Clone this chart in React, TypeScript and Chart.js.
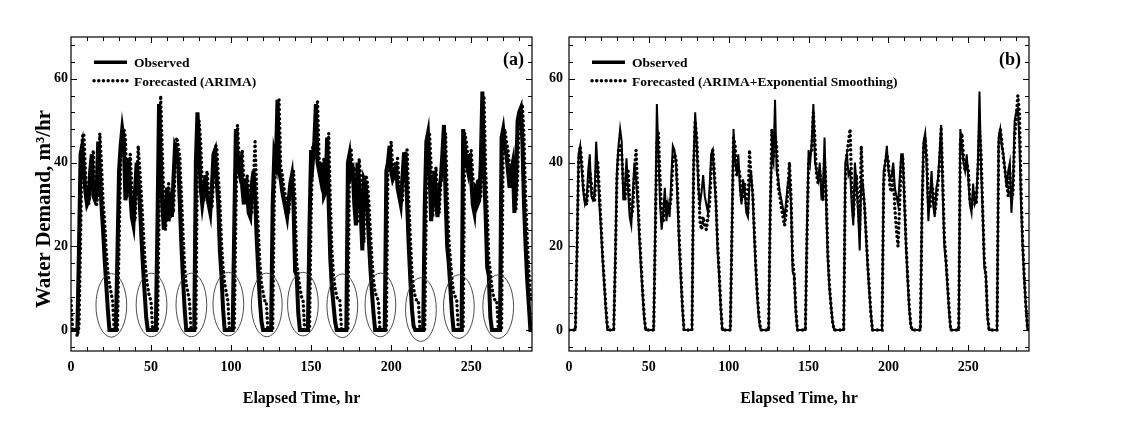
import React, { useEffect, useRef } from 'react';
import { Chart, registerables } from 'chart.js';

Chart.register(...registerables);

// ---------- data (hourly, 0..288 hr) ----------
const OBSERVED = [
  0, 0, 0, 0, 0, 20, 42, 44, 38, 33, 30, 31,
  38, 42, 32, 31, 32, 45, 38, 30, 24, 17, 11, 5,
  0, 0, 0, 0, 0, 18, 38, 44, 48, 45, 31, 34,
  41, 33, 27, 25, 33, 40, 36, 30, 22, 15, 9, 3,
  0, 0, 0, 0, 0, 0, 25, 54, 42, 30, 24, 28,
  34, 26, 30, 27, 36, 44, 43, 40, 30, 20, 12, 5,
  0, 0, 0, 0, 0, 0, 40, 52, 44, 34, 30, 33,
  37, 32, 30, 28, 34, 42, 43, 36, 30, 19, 13, 5,
  0, 0, 0, 0, 0, 0, 25, 48, 40, 38, 42, 34,
  30, 36, 33, 28, 27, 35, 38, 32, 22, 14, 7, 2,
  0, 0, 0, 0, 0, 0, 30, 42, 40, 55, 38, 36,
  33, 31, 29, 27, 31, 35, 37, 30, 14, 13, 4, 0,
  0, 0, 0, 0, 0, 25, 43, 40, 45, 54, 40, 38,
  36, 40, 32, 33, 46, 30, 17, 10, 6, 2, 0, 0,
  0, 0, 0, 0, 0, 40, 42, 37, 38, 30, 25, 40,
  35, 28, 19, 36, 35, 30, 22, 15, 9, 4, 0, 0,
  0, 0, 0, 0, 0, 38, 40, 44, 38, 36, 37, 40,
  34, 32, 30, 36, 42, 42, 30, 20, 12, 5, 1, 0,
  0, 0, 0, 0, 0, 30, 45, 47, 38, 26, 32, 38,
  30, 27, 34, 36, 42, 49, 32, 20, 16, 10, 4, 0,
  0, 0, 0, 0, 0, 48, 44, 40, 38, 42, 36, 30,
  28, 35, 30, 31, 40, 57, 38, 28, 15, 13, 3, 0,
  0, 0, 0, 0, 0, 46, 48, 44, 42, 38, 34, 38,
  40, 28, 35, 50, 52, 53, 45, 30, 20, 12, 6, 0,
  0,
];

const FORECAST_ARIMA = [
  7, 0, 0, 0, -1.5, 1, 22, 46, 47, 38, 33, 30,
  33, 40, 43, 32, 30, 33, 47, 40, 31, 26, 19, 14,
  11, 9, 7, 0, 0, 0, 20, 40, 46, 48, 46, 32,
  35, 42, 34, 27, 26, 34, 44, 38, 32, 25, 18, 13,
  10, 8, 7, 0, 0, 0, 0, 27, 56, 43, 31, 24,
  29, 35, 27, 31, 28, 38, 46, 44, 41, 32, 23, 15,
  11, 9, 7, 0, 0, 0, 0, 42, 50, 45, 35, 31,
  34, 38, 33, 31, 29, 35, 44, 44, 37, 31, 21, 15,
  11, 9, 7, 0, 0, 0, 0, 27, 49, 41, 39, 43,
  35, 31, 37, 34, 29, 28, 36, 45, 33, 24, 16, 11,
  9, 7, 7, 0, 0, 0, 0, 32, 44, 41, 55, 39,
  37, 34, 32, 30, 28, 32, 36, 38, 31, 16, 13, 10,
  8, 7, 0, 0, 0, 0, 27, 44, 41, 46, 55, 41,
  39, 37, 41, 33, 34, 47, 31, 19, 13, 10, 8, 7,
  7, 0, 0, 0, 0, 0, 41, 43, 38, 39, 31, 26,
  41, 36, 29, 21, 37, 36, 31, 24, 17, 12, 9, 8,
  7, 0, 0, 0, 0, 0, 39, 41, 45, 39, 37, 38,
  41, 35, 33, 31, 37, 43, 43, 31, 22, 14, 10, 8,
  7, 7, 0, 0, 0, 0, 31, 46, 47, 39, 27, 33,
  39, 31, 28, 35, 37, 43, 47, 33, 22, 17, 12, 9,
  8, 7, 0, 0, 0, 0, 47, 45, 41, 39, 43, 37,
  31, 29, 36, 31, 32, 41, 56, 39, 29, 17, 14, 10,
  8, 7, 7, 0, 0, 0, 45, 48, 45, 43, 39, 35,
  39, 41, 29, 36, 51, 53, 54, 46, 32, 22, 14, 8,
  7,
];

const FORECAST_ARIMA_ES = [
  0, 0, 0, 0, 0, 18, 40, 44, 40, 34, 31, 30,
  34, 38, 35, 31, 31, 38, 40, 33, 26, 18, 12, 6,
  1, 0, 0, 0, 0, 16, 36, 43, 44, 42, 35, 31,
  36, 38, 31, 27, 29, 38, 43, 33, 24, 17, 10, 4,
  0, 0, 0, 0, 0, 0, 22, 45, 47, 36, 28, 26,
  30, 31, 28, 29, 32, 40, 42, 41, 33, 22, 14, 6,
  0, 0, 0, 0, 0, 0, 38, 50, 46, 36, 26, 24,
  27, 25, 24, 27, 30, 38, 43, 38, 31, 21, 14, 6,
  0, 0, 0, 0, 0, 0, 22, 46, 44, 37, 39, 37,
  31, 32, 35, 30, 28, 43, 36, 33, 24, 15, 8, 3,
  0, 0, 0, 0, 0, 0, 28, 48, 41, 46, 44, 34,
  32, 29, 27, 25, 28, 33, 40, 32, 17, 13, 5, 0,
  0, 0, 0, 0, 0, 22, 40, 42, 43, 52, 45, 37,
  35, 38, 35, 31, 41, 33, 19, 11, 6, 2, 0, 0,
  0, 0, 0, 0, 0, 36, 42, 45, 48, 34, 27, 34,
  37, 30, 24, 44, 33, 30, 23, 16, 10, 4, 0, 0,
  0, 0, 0, 0, 0, 35, 40, 42, 40, 34, 33, 38,
  29, 24, 20, 30, 40, 41, 32, 21, 13, 6, 1, 0,
  0, 0, 0, 0, 0, 28, 44, 46, 41, 30, 29, 35,
  33, 28, 31, 35, 40, 48, 36, 22, 17, 11, 5, 0,
  0, 0, 0, 0, 0, 45, 47, 41, 38, 40, 38, 31,
  29, 32, 33, 30, 38, 48, 42, 29, 17, 13, 4, 0,
  0, 0, 0, 0, 0, 44, 48, 45, 41, 38, 35, 32,
  38, 31, 33, 46, 51, 56, 52, 34, 21, 13, 6, 1,
  0,
];

// hourly time stamps
const HOURS = OBSERVED.map((_, i) => i);

// axes
const X_MIN = 0;
const X_MAX = 288;
const Y_MIN = -5;
const Y_MAX = 70;
const X_MAJOR_TICKS = [0, 50, 100, 150, 200, 250];
const Y_MAJOR_TICKS = [0, 20, 40, 60];
const X_MINOR_STEP = 10;
const Y_MINOR_STEP = 4;

// ellipse annotations around the night-time troughs in panel (a)
const ELLIPSE_HOURS = [25.2, 50.3, 75.2, 98.3, 122.3, 144.9, 169.5, 193.3, 218.6, 242.3, 266.9];
const ELLIPSE_LEVELS = [5.9, 6, 6, 6.2, 6, 6.2, 5.8, 6, 4.9, 5.6, 5.6];
const ELLIPSE_HALF_WIDTH_HR = 9.6;
const ELLIPSE_HALF_HEIGHT = 7.6;

const FONT = '"Liberation Serif", "Times New Roman", Times, serif';

type PanelSpec = {
  tag: string;
  forecast: number[];
  forecastLabel: string;
  observedWidth: number;
  ellipses: boolean;
  yTitle: boolean;
  yAxisWidth: number;
  yTickPadding: number;
  rightPad: number;
};

function toPoints(values: number[]) {
  return values.map((v, i) => ({ x: HOURS[i], y: v }));
}

function decorPlugin(spec: PanelSpec) {
  return {
    id: 'decor',
    afterDatasetsDraw(chart: any) {
      const { ctx, chartArea: a, scales } = chart;
      const xs = scales.x;
      const ys = scales.y;
      ctx.save();

      if (spec.ellipses) {
        ctx.strokeStyle = '#3a3a3a';
        ctx.lineWidth = 0.9;
        ctx.setLineDash([]);
        ELLIPSE_HOURS.forEach((h, i) => {
          const cx = xs.getPixelForValue(h);
          const cy = ys.getPixelForValue(ELLIPSE_LEVELS[i]);
          const rx = Math.abs(xs.getPixelForValue(h + ELLIPSE_HALF_WIDTH_HR) - cx);
          const ry = Math.abs(ys.getPixelForValue(ELLIPSE_LEVELS[i] + ELLIPSE_HALF_HEIGHT) - cy);
          ctx.beginPath();
          ctx.ellipse(cx, cy, rx, ry, 0, 0, Math.PI * 2);
          ctx.stroke();
        });
      }

      // frame
      ctx.setLineDash([]);
      ctx.strokeStyle = '#000';
      ctx.lineWidth = 1.2;
      ctx.strokeRect(a.left, a.top, a.right - a.left, a.bottom - a.top);

      // inward ticks on all four sides
      ctx.lineWidth = 1;
      ctx.beginPath();
      for (let v = Math.ceil(X_MIN / X_MINOR_STEP) * X_MINOR_STEP; v <= X_MAX; v += X_MINOR_STEP) {
        if (v <= X_MIN || v >= X_MAX) continue;
        const px = Math.round(xs.getPixelForValue(v)) + 0.5;
        const len = X_MAJOR_TICKS.includes(v) ? 6 : 4;
        ctx.moveTo(px, a.bottom);
        ctx.lineTo(px, a.bottom - len);
        ctx.moveTo(px, a.top);
        ctx.lineTo(px, a.top + len);
      }
      for (let v = Math.ceil(Y_MIN / Y_MINOR_STEP) * Y_MINOR_STEP; v <= Y_MAX; v += Y_MINOR_STEP) {
        if (v <= Y_MIN || v >= Y_MAX) continue;
        const py = Math.round(ys.getPixelForValue(v)) + 0.5;
        const len = Y_MAJOR_TICKS.includes(v) ? 6 : 4;
        ctx.moveTo(a.left, py);
        ctx.lineTo(a.left + len, py);
        ctx.moveTo(a.right, py);
        ctx.lineTo(a.right - len, py);
      }
      ctx.stroke();

      // legend
      const ds = chart.data.datasets;
      const obs = ds.find((d: any) => d.label === 'Observed');
      const fc = ds.find((d: any) => d.label !== 'Observed');
      const entries = [
        { d: obs, lineY: a.top + 25.3, textY: a.top + 26.3 },
        { d: fc, lineY: a.top + 43.7, textY: a.top + 45.2 },
      ];
      entries.forEach((e) => {
        ctx.beginPath();
        ctx.strokeStyle = '#000';
        ctx.lineWidth = 3.4;
        ctx.lineCap = e.d.borderCapStyle || 'butt';
        ctx.setLineDash(e.d.borderDash || []);
        ctx.moveTo(a.left + 23, e.lineY);
        ctx.lineTo(a.left + 56, e.lineY);
        ctx.stroke();
        ctx.setLineDash([]);
        ctx.fillStyle = '#000';
        ctx.font = `bold 13.5px ${FONT}`;
        ctx.textAlign = 'left';
        ctx.textBaseline = 'middle';
        ctx.fillText(e.d.label, a.left + 63, e.textY);
      });

      // panel tag
      ctx.font = `bold 18px ${FONT}`;
      ctx.textAlign = 'right';
      ctx.textBaseline = 'middle';
      ctx.fillText(spec.tag, a.right - 8, a.top + 23);

      // y axis title
      if (spec.yTitle) {
        ctx.save();
        ctx.translate(a.left - 21, (a.top + a.bottom) / 2 + 15);
        ctx.rotate(-Math.PI / 2);
        ctx.font = `bold 21px ${FONT}`;
        ctx.textAlign = 'center';
        ctx.textBaseline = 'alphabetic';
        ctx.fillText('Water Demand, m\u00B3/hr', 0, 0);
        ctx.restore();
      }
      ctx.restore();
    },
  };
}

function makeConfig(spec: PanelSpec): any {
  const tickFont = { family: FONT, size: 14, weight: 'bold' as const };
  return {
    type: 'line',
    data: {
      datasets: [
        {
          label: spec.forecastLabel,
          data: toPoints(spec.forecast),
          borderColor: '#000',
          borderWidth: 3.4,
          borderDash: [0.1, 4.6],
          borderCapStyle: 'round',
          pointRadius: 0,
          fill: false,
          tension: 0,
        },
        {
          label: 'Observed',
          data: toPoints(OBSERVED),
          borderColor: '#000',
          borderWidth: spec.observedWidth,
          borderJoinStyle: 'miter',
          pointRadius: 0,
          fill: false,
          tension: 0,
        },
      ],
    },
    options: {
      responsive: false,
      animation: false,
      events: [],
      layout: { padding: { left: 0, right: spec.rightPad, top: 37, bottom: 0 } },
      plugins: { legend: { display: false }, tooltip: { enabled: false } },
      scales: {
        x: {
          type: 'linear',
          min: X_MIN,
          max: X_MAX,
          grid: { display: false, drawTicks: false },
          border: { display: false },
          afterBuildTicks: (s: any) => {
            s.ticks = X_MAJOR_TICKS.map((value) => ({ value }));
          },
          afterFit: (s: any) => {
            s.height = 73;
          },
          ticks: { font: tickFont, color: '#000', padding: 8, maxRotation: 0, autoSkip: false },
          title: {
            display: true,
            text: 'Elapsed Time, hr',
            color: '#000',
            font: { family: FONT, size: 16, weight: 'bold' },
            padding: { top: 0, bottom: 16 },
          },
        },
        y: {
          type: 'linear',
          min: Y_MIN,
          max: Y_MAX,
          grid: { display: false, drawTicks: false },
          border: { display: false },
          afterBuildTicks: (s: any) => {
            s.ticks = Y_MAJOR_TICKS.map((value) => ({ value }));
          },
          afterFit: (s: any) => {
            s.width = spec.yAxisWidth;
          },
          ticks: { font: tickFont, color: '#000', padding: spec.yTickPadding, autoSkip: false },
        },
      },
    },
    plugins: [decorPlugin(spec)],
  };
}

const PANEL_A: PanelSpec = {
  tag: '(a)',
  forecast: FORECAST_ARIMA,
  forecastLabel: 'Forecasted (ARIMA)',
  observedWidth: 4,
  ellipses: true,
  yTitle: true,
  yAxisWidth: 71,
  yTickPadding: 3,
  rightPad: 28,
};

const PANEL_B: PanelSpec = {
  tag: '(b)',
  forecast: FORECAST_ARIMA_ES,
  forecastLabel: 'Forecasted (ARIMA+Exponential Smoothing)',
  observedWidth: 2,
  ellipses: false,
  yTitle: false,
  yAxisWidth: 69,
  yTickPadding: 6,
  rightPad: 31,
};

function Panel({ spec, left }: { spec: PanelSpec; left: number }) {
  const ref = useRef<HTMLCanvasElement | null>(null);
  useEffect(() => {
    if (!ref.current) return;
    const chart = new Chart(ref.current, makeConfig(spec));
    return () => chart.destroy();
  }, [spec]);
  return (
    <canvas
      ref={ref}
      width={560}
      height={424}
      style={{ position: 'absolute', left, top: 0, width: 560, height: 424 }}
    />
  );
}

export default function App() {
  return (
    <div
      style={{
        position: 'absolute',
        left: 0,
        top: 0,
        width: 1129,
        height: 424,
        background: '#fff',
        overflow: 'hidden',
      }}
    >
      <Panel spec={PANEL_A} left={0} />
      <Panel spec={PANEL_B} left={500} />
    </div>
  );
}
